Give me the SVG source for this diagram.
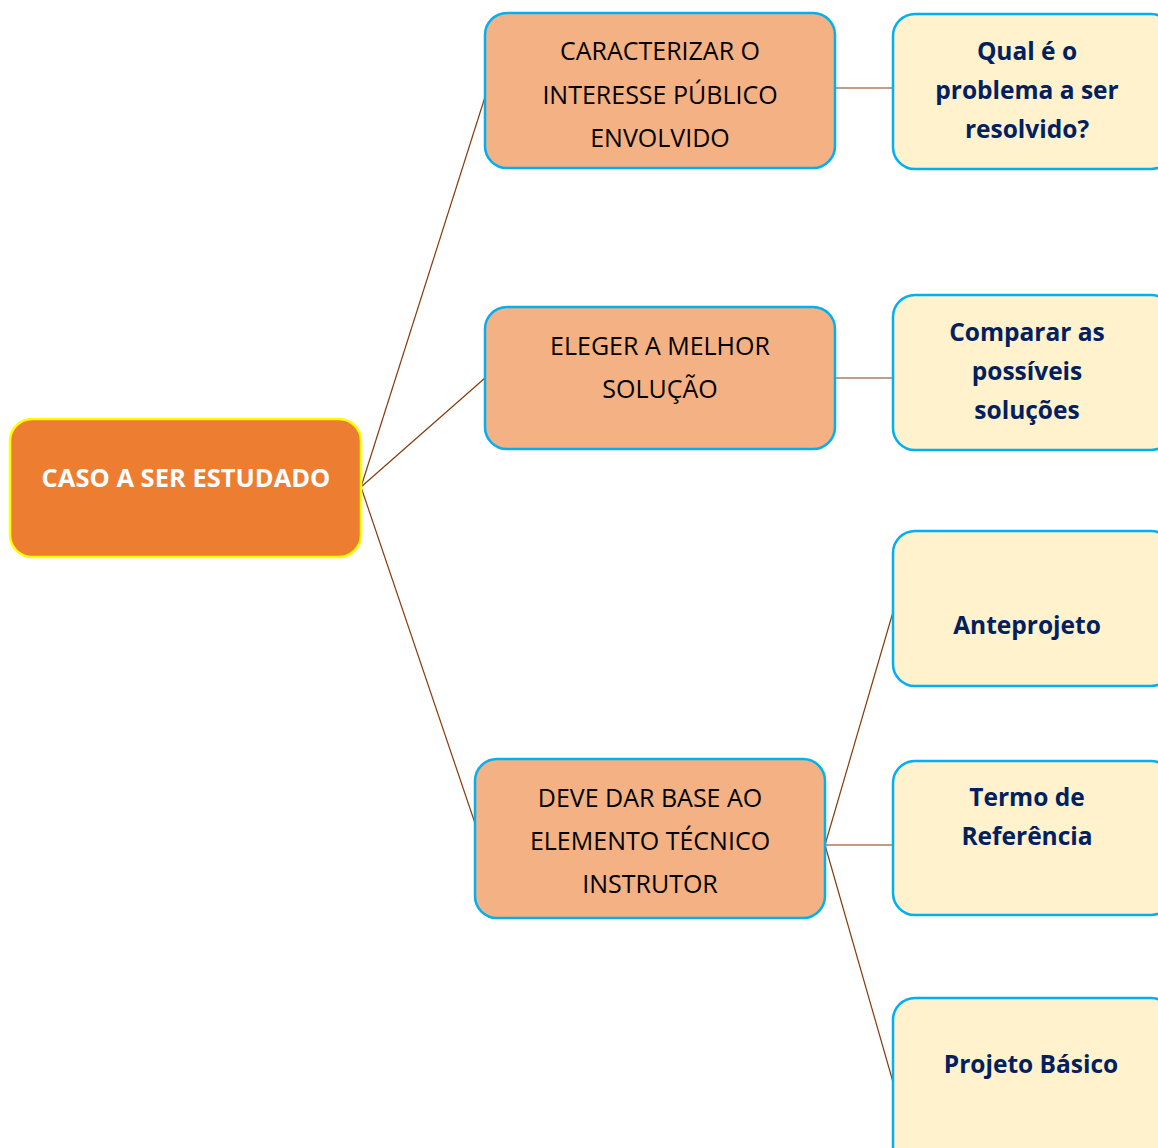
<svg xmlns="http://www.w3.org/2000/svg" width="1158" height="1148" viewBox="0 0 1158 1148">
<style>
.root{fill:#ED7D31;stroke:#FFFF00;stroke-width:2.5}
.mid{fill:#F4B183;stroke:#00B0F0;stroke-width:2.5}
.leaf{fill:#FFF2CC;stroke:#00B0F0;stroke-width:2.5}
.tw{font-family:"Open Sans","Liberation Sans",sans-serif;font-weight:bold;font-size:25.5px;fill:#FFFFFF;text-anchor:middle}
.tm{font-family:"Open Sans","Liberation Sans",sans-serif;font-size:25px;fill:#000000;text-anchor:middle}
.tl{font-family:"Open Sans","Liberation Sans",sans-serif;font-weight:bold;font-size:24.5px;fill:#002060;text-anchor:middle}
.c{stroke:#843C0C;stroke-width:1.2;fill:none}
</style>
<rect width="1158" height="1148" fill="#FFFFFF"/>
<g id="connectors">
<line class="c" x1="361" y1="487" x2="485" y2="97"/>
<line class="c" x1="361" y1="487" x2="485" y2="378"/>
<line class="c" x1="361" y1="487" x2="479" y2="835"/>
<line class="c" x1="835" y1="88" x2="893" y2="88"/>
<line class="c" x1="835" y1="378" x2="893" y2="378"/>
<line class="c" x1="825" y1="845" x2="893" y2="612"/>
<line class="c" x1="825" y1="845" x2="893" y2="845"/>
<line class="c" x1="825" y1="845" x2="893" y2="1082"/>
</g>
<g id="root">
<rect class="root" x="10" y="419" width="351" height="138" rx="22"/>
<text class="tw" x="186" y="487">CASO A SER ESTUDADO</text>
</g>
<g id="nodeA">
<rect class="mid" x="485" y="13" width="350" height="155" rx="22"/>
<text class="tm" x="660" y="60">CARACTERIZAR O</text>
<text class="tm" x="660" y="104">INTERESSE PÚBLICO</text>
<text class="tm" x="660" y="147">ENVOLVIDO</text>
</g>
<g id="nodeB">
<rect class="mid" x="485" y="307" width="350" height="142" rx="22"/>
<text class="tm" x="660" y="355">ELEGER A MELHOR</text>
<text class="tm" x="660" y="398">SOLUÇÃO</text>
</g>
<g id="nodeC">
<rect class="mid" x="475" y="759" width="350" height="159" rx="22"/>
<text class="tm" x="650" y="807">DEVE DAR BASE AO</text>
<text class="tm" x="650" y="850">ELEMENTO TÉCNICO</text>
<text class="tm" x="650" y="893">INSTRUTOR</text>
</g>
<g id="leaf1">
<rect class="leaf" x="893" y="14" width="280" height="155" rx="22"/>
<text class="tl" x="1027" y="60">Qual é o</text>
<text class="tl" x="1027" y="99">problema a ser</text>
<text class="tl" x="1027" y="138">resolvido?</text>
</g>
<g id="leaf2">
<rect class="leaf" x="893" y="295" width="280" height="155" rx="22"/>
<text class="tl" x="1027" y="341">Comparar as</text>
<text class="tl" x="1027" y="380">possíveis</text>
<text class="tl" x="1027" y="419">soluções</text>
</g>
<g id="leaf3">
<rect class="leaf" x="893" y="531" width="280" height="155" rx="22"/>
<text class="tl" x="1027" y="634">Anteprojeto</text>
</g>
<g id="leaf4">
<rect class="leaf" x="893" y="761" width="280" height="154" rx="22"/>
<text class="tl" x="1027" y="806">Termo de</text>
<text class="tl" x="1027" y="845">Referência</text>
</g>
<g id="leaf5">
<rect class="leaf" x="893" y="998" width="280" height="180" rx="22"/>
<text class="tl" x="1031" y="1073">Projeto Básico</text>
</g>
</svg>
